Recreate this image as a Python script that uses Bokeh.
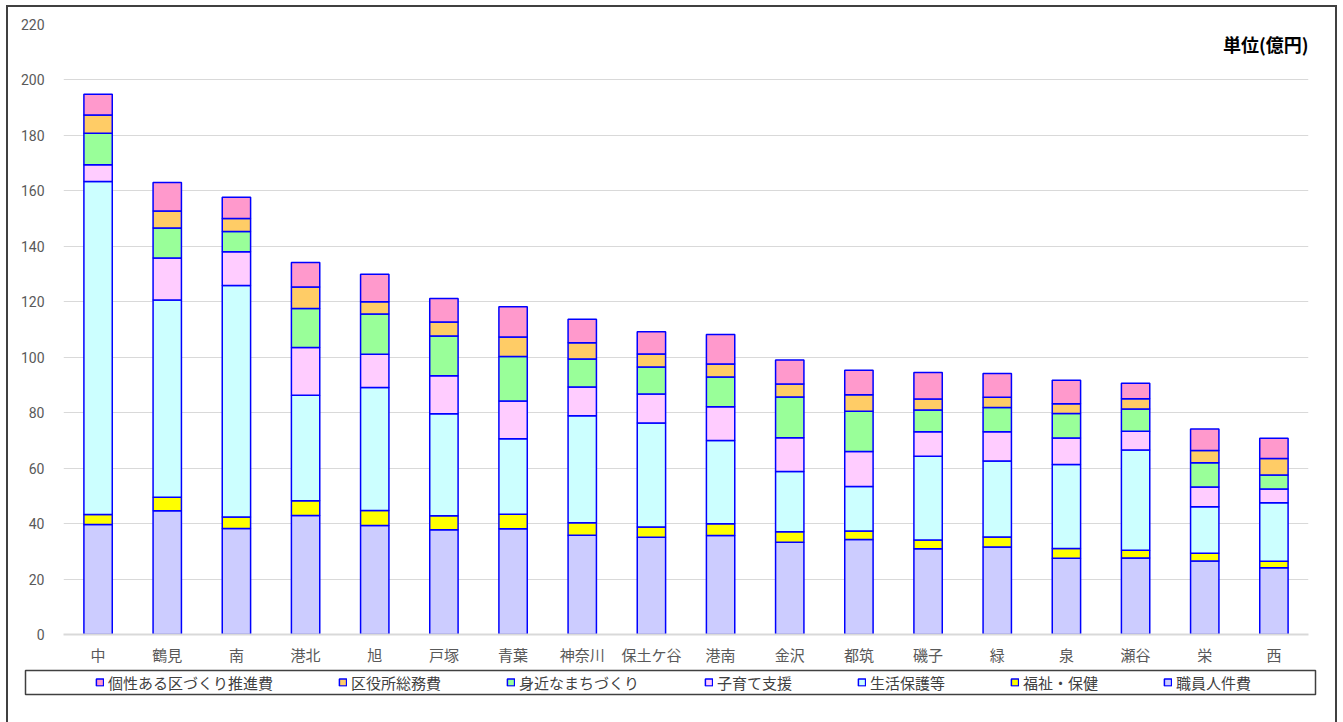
from bokeh.plotting import figure
from bokeh.models import (ColumnDataSource, FactorRange, Range1d, FixedTicker,
                          Legend, LegendItem, Label)
from bokeh.layouts import column, row
from bokeh.embed import file_html
from bokeh.resources import INLINE

districts = ["中", "鶴見", "南", "港北", "旭", "戸塚", "青葉", "神奈川", "保土ケ谷",
             "港南", "金沢", "都筑", "磯子", "緑", "泉", "瀬谷", "栄", "西"]

staff = [39.7, 44.6, 38.2, 42.9, 39.3, 37.8, 38.1, 35.8, 35.1,
         35.7, 33.3, 34.3, 30.9, 31.6, 27.5, 27.6, 26.5, 24.1]
welfare = [3.6, 4.9, 4.2, 5.3, 5.4, 5.0, 5.3, 4.5, 3.7,
           4.2, 3.8, 3.0, 3.2, 3.6, 3.5, 2.8, 2.8, 2.3]
livelihood = [120.1, 71.1, 83.5, 38.1, 44.4, 36.8, 27.2, 38.6, 37.5,
              30.1, 21.7, 16.1, 30.2, 27.4, 30.3, 36.1, 16.8, 21.1]
childcare = [6.0, 15.2, 12.1, 17.2, 12.0, 13.7, 13.6, 10.4, 10.4,
             12.1, 12.2, 12.6, 8.8, 10.5, 9.6, 6.8, 7.1, 5.0]
community = [11.4, 10.8, 7.3, 14.1, 14.5, 14.4, 16.1, 10.1, 9.8,
             10.8, 14.7, 14.5, 7.9, 8.8, 8.8, 8.0, 8.7, 5.0]
general = [6.6, 6.1, 4.7, 7.7, 4.4, 5.0, 7.0, 5.8, 4.7,
           4.7, 4.6, 6.0, 3.9, 3.7, 3.5, 3.7, 4.5, 6.0]
distinctive = [7.4, 10.3, 7.7, 8.9, 9.9, 8.5, 10.9, 8.5, 8.0,
               10.6, 8.7, 8.8, 9.6, 8.5, 8.5, 5.6, 7.7, 7.3]

series_names = ["職員人件費", "福祉・保健", "生活保護等", "子育て支援",
                "身近なまちづくり", "区役所総務費", "個性ある区づくり推進費"]
series_colors = ["#CCCCFF", "#FFFF00", "#CCFFFF", "#FFCCFF",
                 "#99FF99", "#FFCC66", "#FF99CC"]
y_ticks = [0, 20, 40, 60, 80, 100, 120, 140, 160, 180, 200, 220]
unit_text = "単位(億円)"

JP = "Noto Sans CJK JP"
source = ColumnDataSource(data={
    "district": districts,
    series_names[0]: staff,
    series_names[1]: welfare,
    series_names[2]: livelihood,
    series_names[3]: childcare,
    series_names[4]: community,
    series_names[5]: general,
    series_names[6]: distinctive,
})

p = figure(width=1327, height=661, x_range=FactorRange(*districts, range_padding=0),
           y_range=Range1d(0, 220), output_backend="svg", toolbar_location=None,
           min_border_left=55, min_border_right=27, min_border_top=17,
           min_border_bottom=34)
p.outline_line_color = None
p.background_fill_color = "white"
p.border_fill_color = "white"

p.vbar_stack(series_names, x="district", width=0.41, source=source,
             fill_color=series_colors, line_color="#0000FF", line_width=1.5)

p.xgrid.grid_line_color = None
p.ygrid.grid_line_color = "#D9D9D9"
p.ygrid.grid_line_width = 1
p.yaxis.ticker = FixedTicker(ticks=y_ticks)
p.yaxis.axis_line_color = None
p.yaxis.major_tick_line_color = None
p.yaxis.minor_tick_line_color = None
p.yaxis.major_label_standoff = 13
p.yaxis.major_label_text_font = "Roboto"
p.yaxis.major_label_text_font_size = "14px"
p.yaxis.major_label_text_color = "#595959"

p.xaxis.axis_line_color = "#D9D9D9"
p.xaxis.axis_line_width = 2
p.xaxis.major_tick_line_color = None
p.xaxis.minor_tick_line_color = None
p.xaxis.major_label_standoff = 3
p.xaxis.major_label_text_font = JP
p.xaxis.major_label_text_font_size = "15px"
p.xaxis.major_label_text_color = "#595959"

p.add_layout(Label(x=18, y=213, x_offset=0, text=unit_text, text_align="right",
                   text_baseline="middle", text_font=JP, text_font_size="18px",
                   text_font_style="bold", text_color="#000000"))

# legend panel
lg = figure(width=1327, height=54, x_range=Range1d(0, 1), y_range=Range1d(0, 1),
            x_axis_type=None, y_axis_type=None, output_backend="svg",
            toolbar_location=None, min_border_left=17, min_border_right=20,
            min_border_top=2, min_border_bottom=28)
lg.grid.visible = False
lg.outline_line_color = "#404040"
lg.outline_line_width = 1.5
lg.border_fill_color = "white"

items = []
for name, col in zip(series_names[::-1], series_colors[::-1]):
    r = lg.vbar(x=[0.5], top=[1], width=0.1, fill_color=col, line_color="#0000FF",
                line_width=1.5, visible=False)
    items.append(LegendItem(label=name, renderers=[r]))

legend = Legend(items=items, orientation="horizontal", location="left",
                glyph_width=9, glyph_height=9, label_standoff=4, spacing=65,
                padding=0, margin=70, border_line_color=None,
                background_fill_alpha=0, inactive_fill_alpha=0,
                label_text_font=JP, label_text_font_size="15px",
                label_text_color="#404040", label_height=16)
lg.add_layout(legend)

layout = column(p, row(lg), spacing=0, styles={
    "margin-left": "6px",
    "margin-top": "5px",
    "border-top": "2px solid #404040",
    "border-left": "2px solid #404040",
    "border-right": "2px solid #404040",
})

open("out.html", "w").write(file_html(layout, INLINE))
